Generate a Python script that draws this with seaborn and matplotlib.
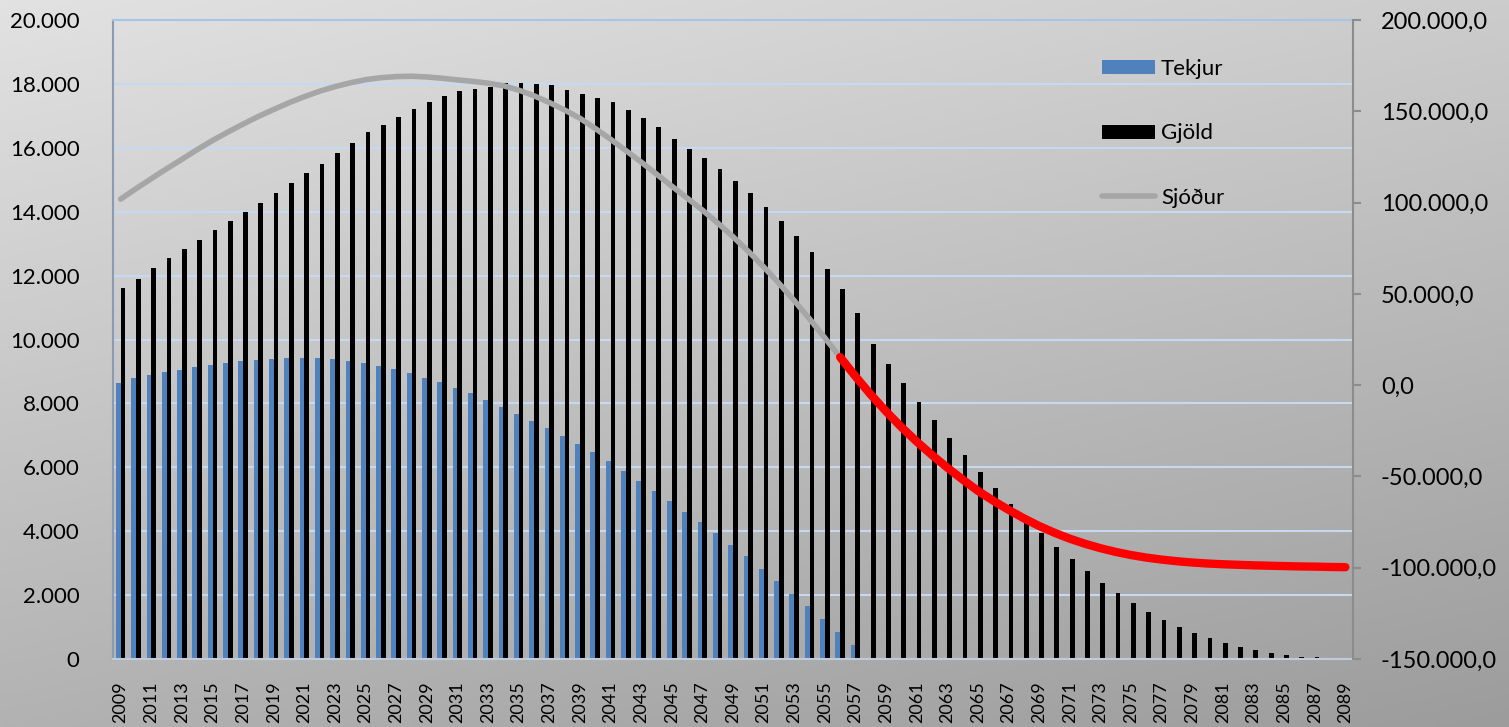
import numpy as np
import pandas as pd
import seaborn as sns
import matplotlib.pyplot as plt
from matplotlib.patches import Patch
from matplotlib.lines import Line2D
from matplotlib.ticker import FuncFormatter, MultipleLocator

years = list(range(2009, 2090))

tekjur = [8640, 8780, 8880, 8980, 9060, 9140, 9200, 9260, 9320, 9370,
          9400, 9420, 9430, 9420, 9390, 9340, 9270, 9180, 9070, 8950,
          8810, 8660, 8490, 8310, 8110, 7900, 7680, 7450, 7220, 6980,
          6730, 6470, 6200, 5870, 5570, 5270, 4940, 4600, 4280, 3940,
          3580, 3220, 2830, 2440, 2050, 1650, 1260, 850, 430, 0,
          0, 0, 0, 0, 0, 0, 0, 0, 0, 0,
          0, 0, 0, 0, 0, 0, 0, 0, 0, 0,
          0, 0, 0, 0, 0, 0, 0, 0, 0, 0, 0]

gjold = [11610, 11890, 12240, 12550, 12830, 13110, 13430, 13710, 13990, 14270,
         14600, 14910, 15220, 15500, 15830, 16160, 16480, 16710, 16970, 17200,
         17420, 17630, 17770, 17840, 17900, 18020, 18020, 18000, 17960, 17820,
         17690, 17570, 17420, 17180, 16940, 16660, 16280, 15960, 15670, 15340,
         14960, 14580, 14150, 13700, 13240, 12750, 12220, 11590, 10820, 9860,
         9220, 8630, 8040, 7470, 6920, 6380, 5850, 5360, 4860, 4400,
         3950, 3520, 3120, 2745, 2390, 2055, 1760, 1480, 1230, 1010,
         820, 650, 510, 385, 282, 197, 125, 72, 52, 20, 5]

sjodur = [101900, 107600, 113100, 118500, 123700, 129000, 134000, 138600, 143000, 147200,
          151000, 154700, 158000, 161000, 163500, 165600, 167300, 168400, 169000, 169200,
          168800, 168100, 167200, 166400, 165400, 164000, 161600, 158500, 154800, 150700,
          146200, 140600, 134700, 128500, 122200, 115600, 109000, 102500, 95900, 88800,
          81300, 73300, 64800, 55800, 46300, 36300, 25900, 15300, 4800, -5200,
          -14400, -23000, -30900, -38300, -45200, -51700, -57900, -63300, -68300, -72950,
          -77150, -80850, -84100, -86900, -89300, -91350, -93050, -94450, -95550, -96450,
          -97150, -97700, -98100, -98400, -98700, -98900, -99100, -99300, -99400, -99600, -99700]

split_year = 2056

plt.rcParams['font.family'] = ['Lato', 'DejaVu Sans']

fig = plt.figure(figsize=(15.09, 7.27), dpi=100)

# gradient background
bg = fig.add_axes([0, 0, 1, 1])
yy, xx = np.mgrid[0:1:200j, 0:1:400j]
grad = 226 - 48 * yy - 22 * xx
bg.imshow(np.dstack([grad, grad, grad]).astype(np.uint8), aspect='auto', extent=[0, 1, 0, 1])
bg.axis('off')

ax = fig.add_axes([113 / 1509, 1 - 659 / 727, (1353 - 113) / 1509, (659 - 20) / 727])
ax.set_facecolor('none')

df = pd.DataFrame({'year': [str(y) for y in years] * 2,
                   'value': tekjur + gjold,
                   'series': ['Tekjur'] * len(years) + ['Gjöld'] * len(years)})
sns.barplot(data=df, x='year', y='value', hue='series', ax=ax,
            palette={'Tekjur': '#4f81bd', 'Gjöld': '#000000'},
            width=0.62, saturation=1, linewidth=0, legend=False, zorder=2)

ax.set_ylim(0, 20000)
ax.set_xlim(-0.5, len(years) - 0.5)
ax.yaxis.set_major_locator(MultipleLocator(2000))
ax.yaxis.set_major_formatter(FuncFormatter(lambda v, p: f"{v:,.0f}".replace(",", ".")))
ax.grid(axis='y', color='#c6d9f1', linewidth=1.5, zorder=0)
ax.set_axisbelow(True)
ax.set_xlabel('')
ax.set_ylabel('')
ax.set_xticks(range(0, len(years), 2))
ax.set_xticklabels([str(y) for y in years[::2]], rotation=90, fontsize=13)
ax.tick_params(axis='x', length=0, pad=16)
ax.tick_params(axis='y', length=0, pad=24, labelsize=16)
ax.spines['left'].set_color('#8c9ab4')
ax.spines['top'].set_color('#a9c4eb')
ax.spines['bottom'].set_color('#c0cad8')
ax.spines['right'].set_visible(False)
for s in ax.spines.values():
    s.set_linewidth(1.5)

ax2 = ax.twinx()
idx = np.arange(len(years))
sj = np.array(sjodur)
k = years.index(split_year)
sns.lineplot(x=idx[:k + 1], y=sj[:k + 1], ax=ax2, color='#a6a6a6', linewidth=4,
             solid_capstyle='round')
sns.lineplot(x=idx[k:], y=sj[k:], ax=ax2, color='#ff0000', linewidth=6,
             solid_capstyle='round')
ax2.set_ylim(-150000, 200000)
ax2.yaxis.set_major_locator(MultipleLocator(50000))
ax2.yaxis.set_major_formatter(FuncFormatter(
    lambda v, p: f"{v:,.1f}".replace(",", "X").replace(".", ",").replace("X", ".")))
ax2.tick_params(axis='y', length=6, width=1.5, color='#8c8c8c', pad=14, labelsize=17)
ax2.set_ylabel('')
for name in ['left', 'top', 'bottom']:
    ax2.spines[name].set_visible(False)
ax2.spines['right'].set_color('#8c8c8c')
ax2.spines['right'].set_linewidth(1.5)

handles = [Patch(facecolor='#4f81bd', edgecolor='none', label='Tekjur'),
           Patch(facecolor='#000000', edgecolor='none', label='Gjöld'),
           Line2D([0], [0], color='#a6a6a6', linewidth=4, solid_capstyle='round', label='Sjóður')]
ax2.legend(handles=handles, loc='upper left', bbox_to_anchor=(1102 / 1509, 1 - 59 / 727),
           bbox_transform=fig.transFigure, frameon=False, fontsize=16,
           handlelength=2.4, handleheight=0.6, handletextpad=0.25, labelspacing=2.0,
           borderpad=0, borderaxespad=0)

fig.savefig('out.png', dpi=100)
